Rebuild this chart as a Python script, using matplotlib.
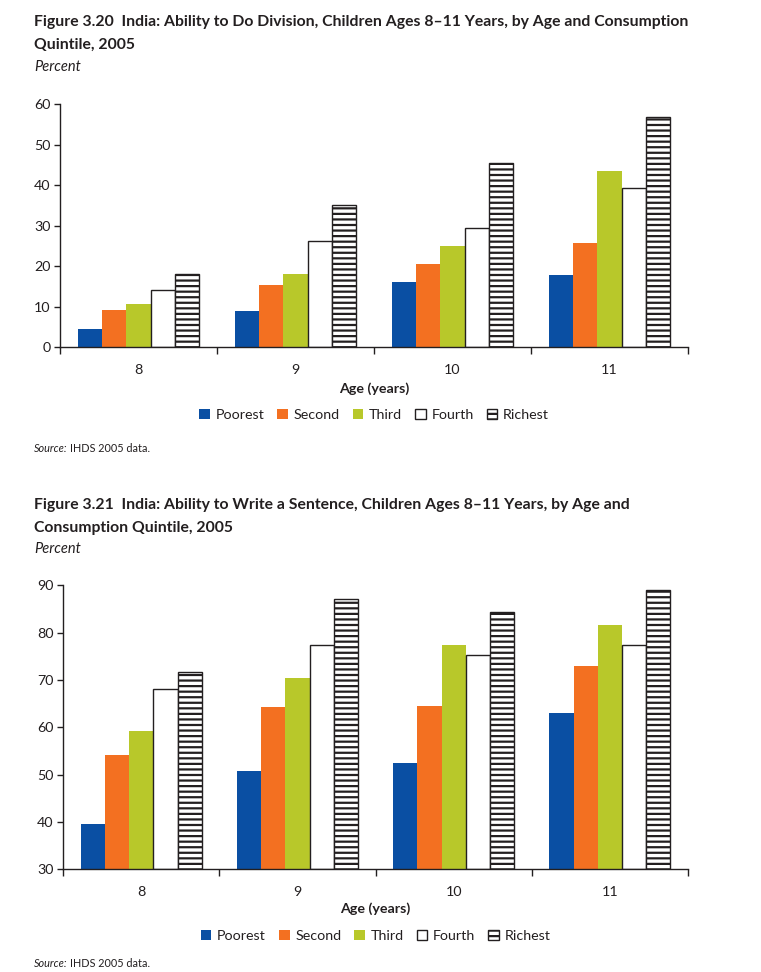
import matplotlib
matplotlib.use('AGG')

import numpy as np
import matplotlib.pyplot as plt

ages = ['8', '9', '10', '11']
quintiles = ['Poorest', 'Second', 'Third', 'Fourth', 'Richest']

# figure 3.20, percent able to do division
division_poorest = [4.6, 9.0, 16.1, 17.8]
division_second = [9.3, 15.4, 20.5, 25.6]
division_third = [10.7, 18.0, 25.1, 43.4]
division_fourth = [14.1, 26.3, 29.4, 39.4]
division_richest = [18.0, 35.0, 45.5, 56.7]

# figure 3.21, percent able to write a sentence
sentence_poorest = [39.6, 50.7, 52.4, 63.0]
sentence_second = [54.2, 64.2, 64.4, 73.0]
sentence_third = [59.2, 70.5, 77.4, 81.7]
sentence_fourth = [68.1, 77.4, 75.2, 77.3]
sentence_richest = [71.7, 87.1, 84.4, 89.0]

title_1 = ['Figure 3.20  India: Ability to Do Division, Children Ages 8\u201311 Years, by Age and Consumption',
           'Quintile, 2005']
title_2 = ['Figure 3.21  India: Ability to Write a Sentence, Children Ages 8\u201311 Years, by Age and',
           'Consumption Quintile, 2005']

TEXT = '#231f20'
styles = [
    dict(color='#0a4fa3', edgecolor='none'),
    dict(color='#f37021', edgecolor='none'),
    dict(color='#b8c82a', edgecolor='none'),
    dict(facecolor='white', edgecolor=TEXT, linewidth=1.0),
    dict(facecolor='white', edgecolor=TEXT, linewidth=1.0, hatch='---'),
]

plt.rcParams['font.family'] = 'Lato'
plt.rcParams['hatch.linewidth'] = 1.6
plt.rcParams['text.color'] = TEXT

W, H = 761, 972
fig = plt.figure(figsize=(W / 100, H / 100), dpi=100)


def fy(px):
    # pixel row from the top -> figure fraction
    return 1 - px / H


def draw_chart(box, series, ymin, ymax, title, title_y, xlabel_y, legend_y, source_y):
    left, top, right, bottom = box
    ax = fig.add_axes([left / W, fy(bottom), (right - left) / W, (bottom - top) / H])
    x = np.arange(len(ages))
    width = 0.155
    for k, (vals, name) in enumerate(zip(series, quintiles)):
        ax.bar(x + (k - 2) * width, np.array(vals) - ymin, width, bottom=ymin,
               label=name, **styles[k])
    ax.set_xlim(-0.5, len(ages) - 0.5)
    ax.set_ylim(ymin, ymax)
    ax.set_yticks(np.arange(ymin, ymax + 1, 10))
    # labels at group centres, tick marks between groups
    ax.set_xticks(x)
    ax.set_xticklabels(ages)
    ax.set_xticks(np.arange(-0.5, len(ages), 1), minor=True)
    ax.tick_params(axis='x', which='major', length=0, pad=12, labelsize=10.3, colors=TEXT)
    ax.tick_params(axis='x', which='minor', length=5, width=1, color=TEXT)
    ax.tick_params(axis='y', length=4, width=1, pad=3, labelsize=10.3, colors=TEXT)
    for s in ['top', 'right']:
        ax.spines[s].set_visible(False)
    for s in ['left', 'bottom']:
        ax.spines[s].set_color(TEXT)
        ax.spines[s].set_linewidth(1.0)

    fig.text(34 / W, fy(title_y[0]), title[0], fontsize=11.35, fontweight='bold', va='center')
    fig.text(34 / W, fy(title_y[1]), title[1], fontsize=11.35, fontweight='bold', va='center')
    fig.text(34 / W, fy(title_y[2]), 'Percent', fontsize=10.5, style='italic', va='center')

    cx = (left + right) / 2 / W
    fig.text(cx, fy(xlabel_y), 'Age (years)', fontsize=10.3, fontweight='bold', ha='center', va='center')
    ax.legend(loc='center', bbox_to_anchor=(cx, fy(legend_y)), bbox_transform=fig.transFigure,
              ncol=5, frameon=False, fontsize=10.3, handlelength=0.75, handleheight=0.75,
              handletextpad=0.4, columnspacing=0.9, borderpad=0)

    src = fig.text(34 / W, fy(source_y), 'Source:', fontsize=7.8, style='italic', va='center')
    ax.annotate('IHDS 2005 data.', xy=(1, 0.5), xycoords=src, xytext=(2, 0),
                textcoords='offset points', fontsize=7.8, va='center', ha='left')
    return ax


draw_chart((60, 104, 688, 347.3),
           [division_poorest, division_second, division_third, division_fourth, division_richest],
           0, 60, title_1, (22, 45, 67), 389, 415, 449)
draw_chart((63.3, 585.3, 688, 869.3),
           [sentence_poorest, sentence_second, sentence_third, sentence_fourth, sentence_richest],
           30, 90, title_2, (505, 528, 549), 909, 936, 963)

fig.savefig('out.png', dpi=100)
